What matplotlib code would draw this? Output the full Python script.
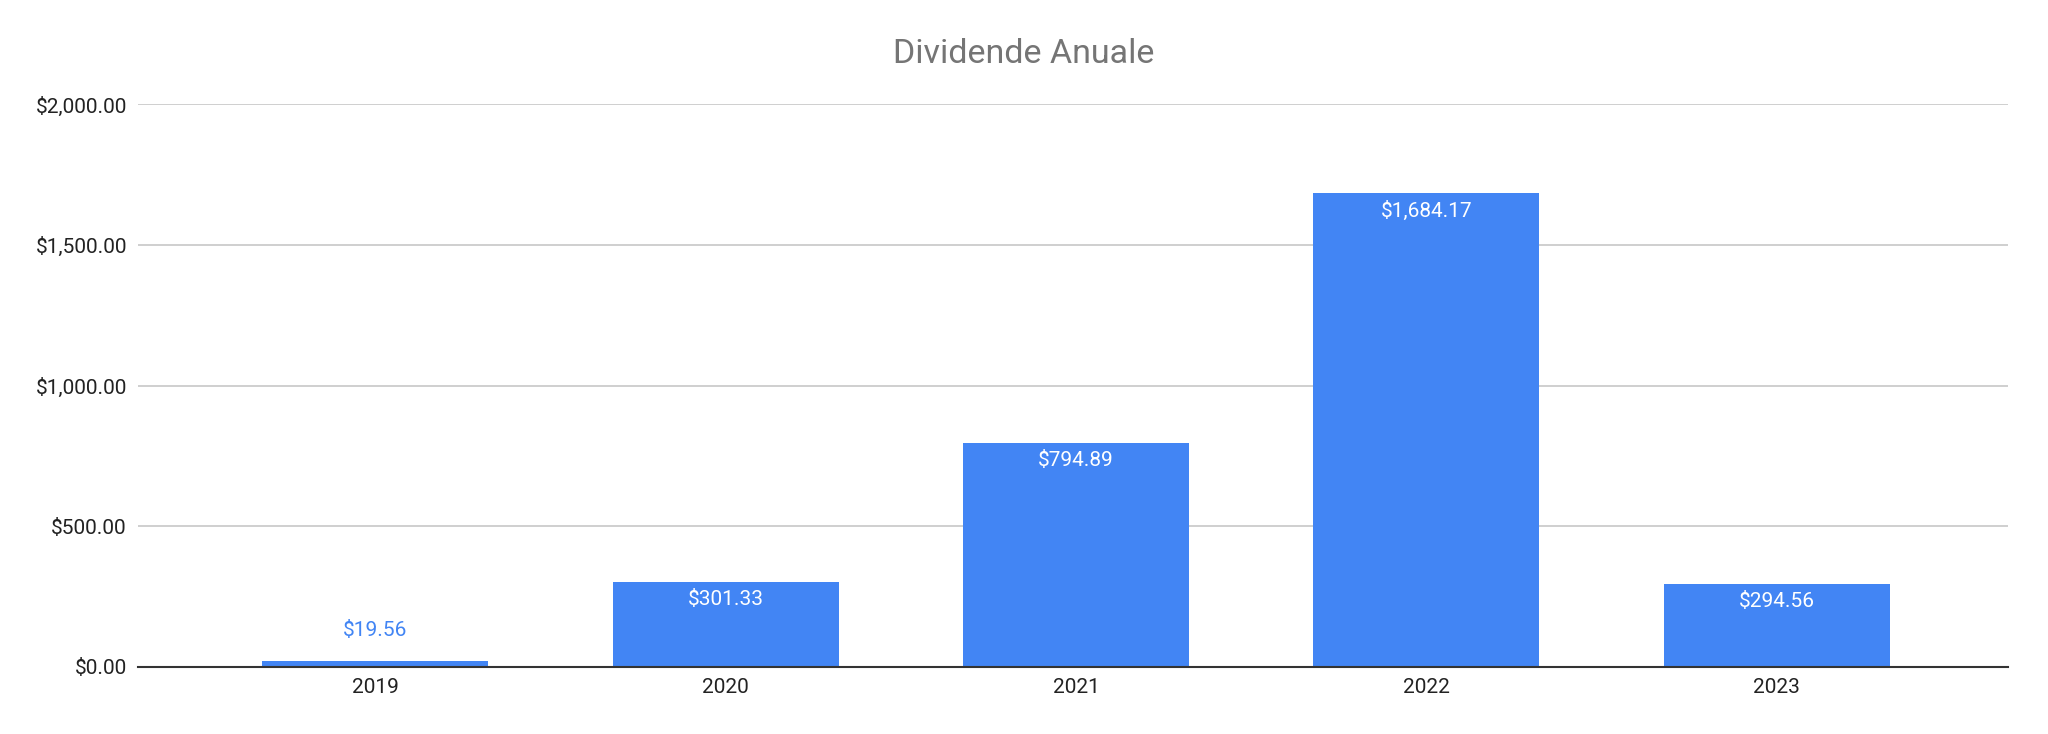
import matplotlib.pyplot as plt
from matplotlib.ticker import FuncFormatter

# date din grafic
ani = ["2019", "2020", "2021", "2022", "2023"]
dividende = [19.56, 301.33, 794.89, 1684.17, 294.56]
y_ticks = [0, 500, 1000, 1500, 2000]

albastru = "#4285F4"

plt.rcParams['font.family'] = ['Roboto', 'DejaVu Sans']

fig = plt.figure(figsize=(20.48, 7.34), dpi=100)
ax = fig.add_axes([0.0674, 0.0913, 0.9131, 0.7664])

x = list(range(len(ani)))
bars = ax.bar(x, dividende, width=0.645, color=albastru, zorder=3)

ax.set_xlim(-0.677, 4.66)
ax.set_ylim(0, 2000)
ax.set_yticks(y_ticks)
ax.yaxis.set_major_formatter(FuncFormatter(lambda v, p: "${:,.2f}".format(v)))
ax.set_xticks(x)
ax.set_xticklabels(ani)

ax.grid(axis='y', color='#cccccc', linewidth=1.3, zorder=0)
for s in ['top', 'right', 'left']:
    ax.spines[s].set_visible(False)
ax.spines['bottom'].set_color('#333333')
ax.spines['bottom'].set_linewidth(1.5)
ax.spines['bottom'].set_zorder(4)

ax.tick_params(axis='y', length=0, pad=8, labelsize=15, labelcolor='#222222')
ax.tick_params(axis='x', length=0, pad=8, labelsize=15, labelcolor='#222222')

# etichete valori
for xi, v in zip(x, dividende):
    txt = "${:,.2f}".format(v)
    if v > 100:
        ax.annotate(txt, (xi, v), xytext=(0, -12.5), textcoords='offset points',
                    ha='center', va='center', color='white', fontsize=15, zorder=5)
    else:
        ax.annotate(txt, (xi, v), xytext=(0, 22), textcoords='offset points',
                    ha='center', va='center', color=albastru, fontsize=15, zorder=5)

fig.text(0.5, 0.927, "Dividende Anuale", ha='center', va='center',
         fontsize=24.5, color='#757575')

plt.savefig("out.png", dpi=100)
